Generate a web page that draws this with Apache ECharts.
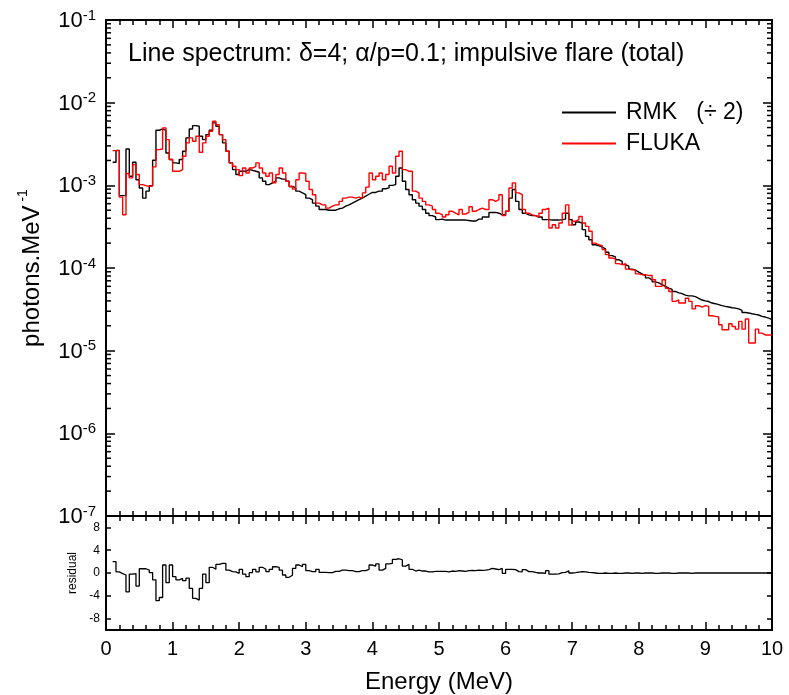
<!DOCTYPE html>
<html>
<head>
<meta charset="utf-8">
<title>Line spectrum</title>
<script src="https://cdn.jsdelivr.net/npm/echarts@6.0.0/dist/echarts.min.js"></script>
<style>
  html, body { margin: 0; padding: 0; background: #fff; }
  #chart { width: 789px; height: 695px; }
</style>
</head>
<body>
<div id="chart"></div>
<script>
// histogram bins: 0.05 MeV wide, first one starts at 0.1 MeV
var binStart = 0.1;
var binWidth = 0.05;

// RMK (divided by 2), photons.MeV^-1 per bin, rows of 0.5 MeV
var rmk = [
  1.9e-3, 2.65e-3, 7.5e-4, 7.5e-4, 2.75e-3, 1.29e-3, 1.9e-3, 1.17e-3, 9.3e-4, 7.0e-4,
  8.5e-4, 9.9e-4, 2.01e-3, 4.64e-3, 4.81e-3, 4.64e-3, 2.46e-3, 2.05e-3, 1.87e-3, 1.83e-3,
  2.05e-3, 2.58e-3, 3.75e-3, 4.81e-3, 5.28e-3, 5.19e-3, 3.93e-3, 3.57e-3, 4.11e-3, 4.64e-3,
  5.69e-3, 5.19e-3, 4.11e-3, 3.26e-3, 2.58e-3, 1.87e-3, 1.55e-3, 1.35e-3, 1.48e-3, 1.48e-3,
  1.55e-3, 1.52e-3, 1.48e-3, 1.44e-3, 1.23e-3, 1.12e-3, 1.02e-3, 1.07e-3, 1.12e-3, 1.23e-3,
  1.19e-3, 1.19e-3, 1.12e-3, 9.7e-4, 9.3e-4, 8.5e-4, 8.1e-4, 7.7e-4, 7.0e-4, 6.7e-4,
  6.1e-4, 5.6e-4, 5.1e-4, 5.1e-4, 5.0e-4, 5.0e-4, 5.0e-4, 5.2e-4, 5.3e-4, 5.6e-4,
  5.8e-4, 6.1e-4, 6.4e-4, 6.7e-4, 7.0e-4, 7.4e-4, 7.8e-4, 8.2e-4, 8.2e-4, 8.5e-4,
  8.5e-4, 9.1e-4, 9.3e-4, 1.0e-3, 1.02e-3, 1.29e-3, 1.62e-3, 1.12e-3, 8.9e-4, 7.7e-4,
  6.7e-4, 6.1e-4, 5.6e-4, 5.1e-4, 4.6e-4, 4.3e-4, 4.14e-4, 3.85e-4, 3.9e-4, 3.8e-4,
  3.8e-4, 3.8e-4, 3.8e-4, 3.8e-4, 3.8e-4, 3.8e-4, 3.75e-4, 3.7e-4, 3.7e-4, 3.9e-4,
  3.9e-4, 4.14e-4, 4.14e-4, 4.7e-4, 4.7e-4, 4.6e-4, 4.4e-4, 4.4e-4, 4.85e-4, 7.0e-4,
  8.9e-4, 6.4e-4, 5.1e-4, 4.6e-4, 4.4e-4, 4.3e-4, 4.3e-4, 4.14e-4, 4.14e-4, 3.85e-4,
  3.85e-4, 3.8e-4, 3.8e-4, 3.8e-4, 3.85e-4, 3.9e-4, 4.6e-4, 3.85e-4, 3.34e-4, 3.6e-4,
  3.5e-4, 2.91e-4, 2.41e-4, 2.2e-4, 1.91e-4, 1.86e-4, 1.79e-4, 1.7e-4, 1.55e-4, 1.41e-4,
  1.36e-4, 1.26e-4, 1.2e-4, 1.1e-4, 1.05e-4, 9.7e-5, 9.4e-5, 8.9e-5, 8.5e-5, 8.1e-5,
  7.6e-5, 7.2e-5, 6.8e-5, 6.6e-5, 6.3e-5, 6.0e-5, 5.7e-5, 5.5e-5, 5.2e-5, 5.0e-5,
  4.9e-5, 4.7e-5, 4.6e-5, 4.6e-5, 4.5e-5, 4.3e-5, 4.1e-5, 4.0e-5, 3.93e-5, 3.77e-5,
  3.7e-5, 3.6e-5, 3.5e-5, 3.43e-5, 3.37e-5, 3.3e-5, 3.27e-5, 3.2e-5, 3.07e-5, 2.9e-5,
  2.86e-5, 2.8e-5, 2.75e-5, 2.7e-5, 2.6e-5, 2.55e-5, 2.48e-5, 2.37e-5
];

// FLUKA, same bins
var fluka = [
  2.63e-3, 2.63e-3, 7.2e-4, 4.4e-4, 1.39e-3, 1.23e-3, 1.78e-3, 1.35e-3, 1.02e-3, 9.9e-4,
  9.7e-4, 9.9e-4, 1.67e-3, 2.7e-3, 2.75e-3, 4.96e-3, 3.57e-3, 2.05e-3, 1.48e-3, 1.48e-3,
  1.55e-3, 2.25e-3, 3.26e-3, 3.75e-3, 3.41e-3, 3.93e-3, 2.51e-3, 3.26e-3, 3.93e-3, 4.51e-3,
  5.96e-3, 5.43e-3, 4.11e-3, 3.57e-3, 2.58e-3, 1.87e-3, 1.7e-3, 1.55e-3, 1.31e-3, 1.62e-3,
  1.41e-3, 1.62e-3, 1.7e-3, 1.87e-3, 1.62e-3, 1.41e-3, 1.29e-3, 1.41e-3, 1.07e-3, 1.35e-3,
  1.62e-3, 1.41e-3, 1.12e-3, 9.7e-4, 9.0e-4, 1.17e-3, 1.41e-3, 1.39e-3, 1.12e-3, 8.9e-4,
  7.7e-4, 6.1e-4, 5.8e-4, 5.8e-4, 5.3e-4, 5.6e-4, 5.8e-4, 5.8e-4, 6.4e-4, 7.0e-4,
  7.2e-4, 7.2e-4, 7.0e-4, 7.2e-4, 7.0e-4, 8.1e-4, 9.5e-4, 1.41e-3, 1.17e-3, 1.29e-3,
  1.41e-3, 1.17e-3, 1.35e-3, 1.7e-3, 1.41e-3, 2.25e-3, 2.58e-3, 1.55e-3, 1.48e-3, 1.48e-3,
  8.5e-4, 8.1e-4, 7.0e-4, 6.4e-4, 5.8e-4, 5.6e-4, 5.1e-4, 4.6e-4, 4.4e-4, 4.14e-4,
  4.4e-4, 4.85e-4, 4.6e-4, 4.4e-4, 5.1e-4, 4.5e-4, 4.7e-4, 5.5e-4, 4.85e-4, 5.1e-4,
  5.3e-4, 5.1e-4, 5.1e-4, 6.7e-4, 6.4e-4, 6.7e-4, 7.7e-4, 4.3e-4, 4.85e-4, 9.3e-4,
  1.07e-3, 8.1e-4, 7.7e-4, 5.1e-4, 4.6e-4, 4.4e-4, 4.3e-4, 4.14e-4, 4.6e-4, 5.1e-4,
  5.3e-4, 3.05e-4, 3.34e-4, 3.05e-4, 3.5e-4, 4.6e-4, 5.8e-4, 3.3e-4, 3.67e-4, 3.85e-4,
  4.2e-4, 3.5e-4, 3.19e-4, 2.78e-4, 2.0e-4, 1.91e-4, 1.86e-4, 1.67e-4, 1.45e-4, 1.32e-4,
  1.29e-4, 1.13e-4, 1.1e-4, 1.13e-4, 9.7e-5, 9.5e-5, 9.5e-5, 8.5e-5, 8.3e-5, 8.3e-5,
  8.1e-5, 8.1e-5, 7.2e-5, 6.0e-5, 6.0e-5, 7.2e-5, 5.7e-5, 5.2e-5, 3.95e-5, 4.1e-5,
  3.77e-5, 3.77e-5, 4.3e-5, 3.95e-5, 3.2e-5, 3.5e-5, 3.37e-5, 3.5e-5, 3.43e-5, 2.64e-5,
  2.6e-5, 2.55e-5, 2.06e-5, 1.79e-5, 1.79e-5, 2.12e-5, 1.96e-5, 1.82e-5, 2.26e-5, 1.82e-5,
  2.42e-5, 1.24e-5, 1.24e-5, 1.82e-5, 1.63e-5, 1.55e-5, 1.55e-5, 1.55e-5
];

// residual per bin
var residual = [
  2.0, 0.2, -0.1, -0.35, -3.3, -0.2, -0.1, -2.3, 0.75, 0.75,
  0.5, 0.05, -1.2, -4.85, -4.3, 1.4, -1.7, 1.4, -0.65, -1.2,
  -0.95, -1.35, -0.9, -2.7, -4.45, -4.75, -2.7, -0.2, -1.7, 1.0,
  0.65, 1.5, 1.7, 1.7, 0.5, 0.25, 0.2, -0.05, 0.65, -0.2,
  -0.65, 0.05, 0.65, 0.2, 1.0, 0.65, 0.25, 0.65, 1.1, 1.0,
  0.5, -0.35, -0.75, -0.4, 0.8, 1.4, 1.1, 1.5, 0.4, 0.25,
  0.25, 0.65, 0.1, 0.1, 0.05, 0.05, 0.3, 0.3, 0.5, 0.5,
  0.4, 0.4, 0.25, 0.25, 0.4, 0.4, 0.65, 1.4, 1.2, 1.6,
  0.5, 0.8, 1.6, 1.7, 2.4, 2.5, 2.3, 1.2, 1.5, 0.65,
  0.35, 0.5, 0.35, 0.35, 0.2, 0.2, 0.3, 0.3, 0.3, 0.3,
  0.2, 0.35, 0.3, 0.4, 0.35, 0.3, 0.4, 0.45, 0.4, 0.5,
  0.45, 0.5, 0.6, 0.8, 0.7, 0.6, 0.8, -0.05, 0.65, 0.65,
  0.6, 0.25, 0.2, 0.6, 0.25, 0.25, 0.1, 0.0, 0.0, -0.05,
  0.4, -0.2, -0.2, -0.15, 0.05, 0.1, 0.4, 0.0, 0.05, 0.15,
  0.25, 0.2, 0.1, 0.05, 0.0, -0.05, -0.05, 0.0, -0.05, -0.05,
  0.0, -0.05, -0.05, 0.0, 0.0, -0.05, 0.0, 0.0, -0.05, 0.0,
  0.0, 0.0, -0.05, -0.05, 0.0, 0.0, 0.0, -0.05, -0.05, 0.0,
  0.0, 0.0, 0.0, -0.05, 0.0, 0.0, 0.0, 0.0, 0.0, 0.0,
  0.0, 0.0, 0.0, 0.0, 0.0, 0.0, 0.0, 0.0, 0.0, 0.0,
  0.0, 0.0, 0.0, 0.0, 0.0, 0.0, 0.0, 0.0
];

var yExponents = [-7, -6, -5, -4, -3, -2, -1];
var residualTicks = [-8, -4, 0, 4, 8];
var seriesNames = ['RMK   (\u00f7 2)', 'FLUKA'];

var FONT = "'Liberation Sans', Arial, sans-serif";

// step points: one per bin start, plus the closing edge
function toSteps(vals) {
  var pts = [];
  for (var i = 0; i < vals.length; i++) {
    pts.push([+(binStart + i * binWidth).toFixed(2), vals[i]]);
  }
  pts.push([+(binStart + vals.length * binWidth).toFixed(2), vals[vals.length - 1]]);
  return pts;
}

// 2..9 x 10^k minor ticks of the log axis
var minorTicks = [];
for (var k = 0; k < yExponents.length - 1; k++) {
  for (var m = 2; m <= 9; m++) minorTicks.push([0, m * Math.pow(10, yExponents[k])]);
}

var chart = echarts.init(document.getElementById('chart'), null, { renderer: 'canvas' });

var axLine = { show: true, onZero: false, lineStyle: { color: '#000', width: 2 } };
var xTick = { show: true, inside: true, length: 8, lineStyle: { color: '#000', width: 1.5 } };
var xMinor = { show: true, splitNumber: 5, length: 5, lineStyle: { color: '#000', width: 1.5 } };

function xAx(grid, pos, labels) {
  var a = {
    type: 'value', gridIndex: grid, position: pos, min: 0, max: 10, interval: 1,
    axisLine: axLine, axisTick: xTick, minorTick: xMinor,
    splitLine: { show: false },
    axisLabel: { show: labels, color: '#000', fontSize: 20, margin: 9, fontFamily: FONT }
  };
  if (labels) {
    a.name = 'Energy (MeV)';
    a.nameLocation = 'middle';
    a.nameGap = 40;
    a.nameTextStyle = { color: '#000', fontSize: 24, fontFamily: FONT };
  }
  return a;
}

function logAx(pos, labels) {
  var a = {
    type: 'log', logBase: 10, gridIndex: 0, position: pos, min: 1e-7, max: 1e-1,
    axisLine: axLine,
    axisTick: { show: true, inside: true, length: 9, lineStyle: { color: '#000', width: 1.5 } },
    splitLine: { show: false },
    axisLabel: {
      show: labels, margin: 10,
      formatter: function (v) {
        return '{b|10}{e|' + Math.round(Math.log10(v)) + '}';
      },
      rich: {
        b: { fontSize: 22, color: '#000', fontFamily: FONT, lineHeight: 24, verticalAlign: 'bottom' },
        e: { fontSize: 15, color: '#000', fontFamily: FONT, lineHeight: 15, verticalAlign: 'top' }
      }
    }
  };
  if (labels) {
    a.name = '{a|photons.MeV}{s| -1}';
    a.nameLocation = 'middle';
    a.nameGap = 62;
    a.nameRotate = 90;
    a.nameTextStyle = {
      rich: {
        a: { fontSize: 24, color: '#000', fontFamily: FONT, lineHeight: 28, verticalAlign: 'bottom' },
        s: { fontSize: 14, color: '#000', fontFamily: FONT, lineHeight: 14, verticalAlign: 'top' }
      }
    };
  }
  return a;
}

function resAx(pos, labels) {
  var a = {
    type: 'value', gridIndex: 1, position: pos, min: -10, max: 10,
    axisLine: axLine,
    axisTick: { show: true, inside: true, length: 5, customValues: residualTicks, lineStyle: { color: '#000', width: 1.5 } },
    splitLine: { show: false },
    axisLabel: { show: labels, customValues: residualTicks, color: '#000', fontSize: 12, margin: 6, fontFamily: FONT }
  };
  if (labels) {
    a.name = 'residual';
    a.nameLocation = 'middle';
    a.nameGap = 26;
    a.nameTextStyle = { color: '#000', fontSize: 12, fontFamily: FONT };
  }
  return a;
}

var option = {
  animation: false,
  backgroundColor: '#fff',
  textStyle: { fontFamily: FONT },
  title: {
    text: 'Line spectrum: \u03b4=4; \u03b1/p=0.1; impulsive flare (total)',
    left: 128, top: 42, padding: 0,
    textStyle: { color: '#000', fontSize: 25, fontWeight: 'normal', fontFamily: FONT }
  },
  legend: {
    data: seriesNames,
    orient: 'vertical', left: 562, top: 101, padding: 0,
    icon: 'rect', itemWidth: 54, itemHeight: 2, itemGap: 8,
    textStyle: { color: '#000', fontSize: 23, fontFamily: FONT, padding: [0, 0, 0, 5] }
  },
  grid: [
    { left: 106, right: 17, top: 20, height: 496, outerBoundsMode: 'none' },
    { left: 106, right: 17, top: 516, height: 114, outerBoundsMode: 'none' }
  ],
  xAxis: [xAx(0, 'bottom', false), xAx(0, 'top', false), xAx(1, 'bottom', true), xAx(1, 'top', false)],
  yAxis: [logAx('left', true), logAx('right', false), resAx('left', true), resAx('right', false)],
  series: [
    {
      name: seriesNames[0], type: 'line', step: 'end', xAxisIndex: 0, yAxisIndex: 0,
      data: toSteps(rmk), showSymbol: false, color: '#000',
      lineStyle: { color: '#000', width: 1.4 }
    },
    {
      name: seriesNames[1], type: 'line', step: 'end', xAxisIndex: 0, yAxisIndex: 0,
      data: toSteps(fluka), showSymbol: false, color: '#ff0000',
      lineStyle: { color: '#ff0000', width: 1.4 }
    },
    {
      name: 'residual', type: 'line', step: 'end', xAxisIndex: 2, yAxisIndex: 2,
      data: toSteps(residual), showSymbol: false, color: '#000',
      lineStyle: { color: '#000', width: 1.3 }
    },
    {
      // minor log ticks on both sides of the top panel
      type: 'custom', xAxisIndex: 0, yAxisIndex: 0, silent: true, clip: false,
      data: minorTicks,
      renderItem: function (params, api) {
        var l = api.coord([0, api.value(1)]);
        var r = api.coord([10, api.value(1)]);
        return {
          type: 'group',
          children: [
            { type: 'line', shape: { x1: l[0], y1: l[1], x2: l[0] + 5, y2: l[1] }, style: { stroke: '#000', lineWidth: 1.5 } },
            { type: 'line', shape: { x1: r[0] - 5, y1: r[1], x2: r[0], y2: r[1] }, style: { stroke: '#000', lineWidth: 1.5 } }
          ]
        };
      }
    }
  ]
};

chart.setOption(option);
</script>
</body>
</html>
